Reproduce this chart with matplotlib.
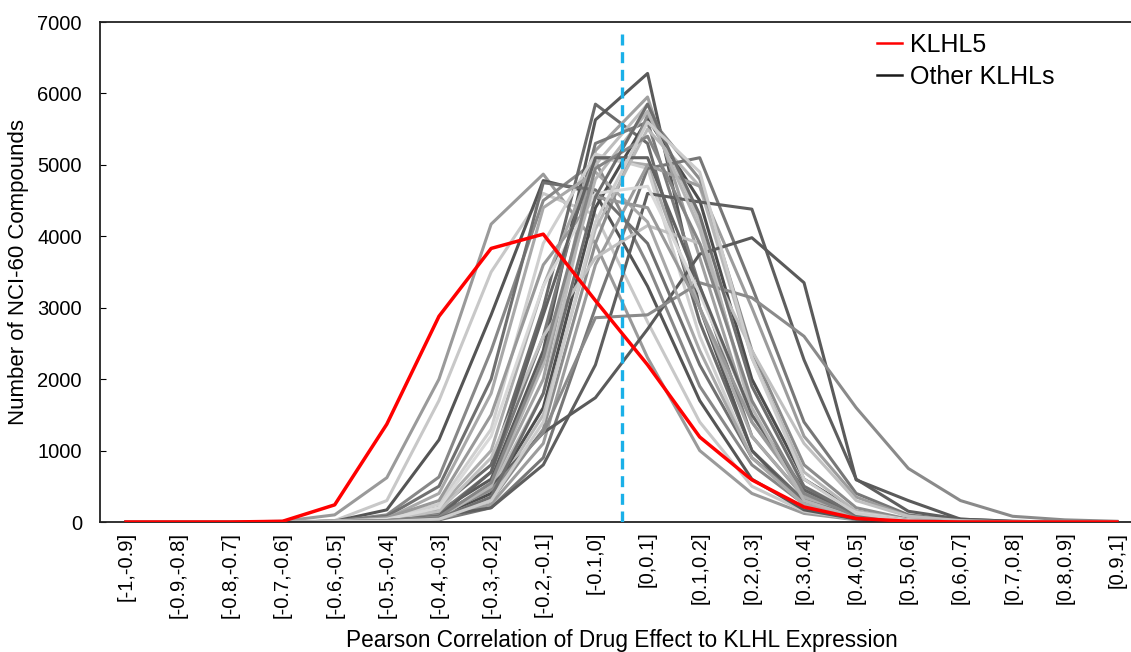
import numpy as np
import matplotlib
matplotlib.use("Agg")
import matplotlib.pyplot as plt
from matplotlib.lines import Line2D

plt.rcParams["font.family"] = ["Liberation Sans", "DejaVu Sans"]

# correlation bins (category axis)
bins = ["[-1,-0.9]", "[-0.9,-0.8]", "[-0.8,-0.7]", "[-0.7,-0.6]", "[-0.6,-0.5]",
        "[-0.5,-0.4]", "[-0.4,-0.3]", "[-0.3,-0.2]", "[-0.2,-0.1]", "[-0.1,0]",
        "[0,0.1]", "[0.1,0.2]", "[0.2,0.3]", "[0.3,0.4]", "[0.4,0.5]",
        "[0.5,0.6]", "[0.6,0.7]", "[0.7,0.8]", "[0.8,0.9]", "[0.9,1]"]

klhl5 = [0, 0, 0, 10, 240, 1370, 2880, 3830, 4030, 3100,
         2200, 1190, 590, 210, 50, 10, 0, 0, 0, 0]

# other KLHL family members (approximate)
other_klhls = [
    [0, 0, 0, 10, 100, 620, 2000, 4170, 4870, 3900, 2300, 1000, 400, 120, 30, 0, 0, 0, 0, 0],
    [0, 0, 0, 0, 20, 300, 1700, 3500, 4600, 4300, 2800, 1400, 500, 150, 40, 10, 0, 0, 0, 0],
    [0, 0, 0, 0, 10, 170, 1150, 2900, 4780, 4600, 3300, 1700, 600, 170, 40, 10, 0, 0, 0, 0],
    [0, 0, 0, 0, 10, 100, 630, 2400, 4500, 5050, 3600, 1900, 800, 250, 60, 20, 0, 0, 0, 0],
    [0, 0, 0, 0, 10, 40, 200, 800, 3000, 5850, 5300, 2800, 1000, 300, 80, 20, 0, 0, 0, 0],
    [0, 0, 0, 0, 5, 30, 150, 600, 2400, 5630, 6280, 3000, 1000, 250, 60, 20, 0, 0, 0, 0],
    [0, 0, 0, 0, 5, 20, 100, 500, 2000, 5200, 5950, 3700, 1400, 400, 100, 30, 0, 0, 0, 0],
    [0, 0, 0, 0, 5, 20, 80, 450, 1800, 5000, 5850, 4200, 1500, 400, 100, 20, 0, 0, 0, 0],
    [0, 0, 0, 0, 5, 30, 120, 700, 2600, 5300, 5600, 3300, 1200, 350, 80, 20, 0, 0, 0, 0],
    [0, 0, 0, 0, 10, 40, 200, 1000, 3300, 5100, 5000, 3000, 1200, 350, 80, 20, 0, 0, 0, 0],
    [0, 0, 0, 0, 10, 50, 250, 1300, 3900, 5150, 4950, 2600, 900, 250, 60, 10, 0, 0, 0, 0],
    [0, 0, 0, 0, 5, 20, 60, 400, 1600, 4400, 5650, 4500, 2000, 600, 150, 30, 0, 0, 0, 0],
    [0, 0, 0, 0, 5, 10, 40, 300, 1300, 3900, 5700, 4800, 2400, 800, 200, 40, 10, 0, 0, 0],
    [0, 0, 0, 0, 5, 10, 50, 350, 1500, 4100, 5500, 4700, 2300, 700, 150, 30, 0, 0, 0, 0],
    [0, 0, 0, 0, 0, 10, 30, 200, 900, 3000, 4950, 5100, 3300, 1400, 400, 100, 20, 0, 0, 0],
    [0, 0, 0, 0, 0, 10, 40, 250, 1100, 3600, 5000, 4700, 3000, 1200, 350, 80, 20, 0, 0, 0],
    [0, 0, 0, 0, 5, 20, 80, 200, 800, 2200, 4600, 4480, 4380, 2270, 600, 150, 40, 10, 0, 0],
    [0, 0, 0, 0, 5, 30, 100, 500, 1250, 1740, 2700, 3750, 3980, 3350, 590, 300, 40, 10, 0, 0],
    [0, 0, 0, 0, 5, 20, 100, 450, 1250, 2860, 2900, 3350, 3140, 2600, 1600, 750, 300, 80, 30, 10],
    [0, 0, 0, 0, 10, 40, 150, 900, 2600, 3700, 4150, 3900, 2400, 1100, 300, 80, 20, 0, 0, 0],
    [0, 0, 0, 0, 10, 80, 500, 2000, 4750, 4650, 3900, 2200, 900, 300, 80, 20, 0, 0, 0, 0],
    [0, 0, 0, 0, 10, 50, 400, 1800, 4400, 4900, 4200, 2400, 900, 250, 60, 10, 0, 0, 0, 0],
    [0, 0, 0, 0, 10, 60, 300, 1500, 3600, 4550, 4400, 3000, 1400, 450, 120, 30, 0, 0, 0, 0],
    [0, 0, 0, 0, 10, 40, 200, 1200, 3300, 4600, 4700, 3200, 1500, 500, 130, 30, 0, 0, 0, 0],
    [0, 0, 0, 0, 5, 20, 80, 700, 2900, 5100, 5100, 3300, 1500, 450, 100, 20, 0, 0, 0, 0],
    [0, 0, 0, 0, 5, 20, 60, 500, 2200, 4800, 5750, 4100, 1600, 300, 60, 10, 0, 0, 0, 0],
    [0, 0, 0, 0, 5, 20, 70, 550, 2300, 4950, 5400, 3900, 1700, 400, 80, 10, 0, 0, 0, 0],
    [0, 0, 0, 0, 5, 10, 50, 350, 1800, 4550, 5850, 4300, 1900, 500, 100, 20, 0, 0, 0, 0],
    [0, 0, 0, 0, 5, 10, 40, 300, 1400, 4200, 5600, 4900, 2300, 600, 120, 20, 0, 0, 0, 0],
]

gray_shades = ["#9a9a9a", "#c8c8c8", "#555555", "#888888", "#6a6a6a", "#595959",
               "#a0a0a0", "#bdbdbd", "#7a7a7a", "#ababab", "#cfcfcf", "#4d4d4d",
               "#8c8c8c", "#b8b8b8", "#777777", "#9c9c9c", "#5e5e5e", "#5a5a5a",
               "#8a8a8a", "#c0c0c0", "#707070", "#a8a8a8", "#999999", "#d9d9d9",
               "#626262", "#b5b5b5", "#858585", "#6e6e6e", "#cccccc"]

fig = plt.figure(figsize=(11.31, 6.52), dpi=100)
ax = fig.add_axes([100 / 1131, 130 / 652, 1043 / 1131, 500 / 652])

x = np.arange(len(bins))
for vals, c in zip(other_klhls, gray_shades):
    ax.plot(x, vals, color=c, lw=2.2, solid_joinstyle="round", zorder=2)

ax.vlines(9.5, 0, 6850, colors="#1ab0e8", linestyles=(0, (3.3, 2.0)), lw=2.4, zorder=3)
ax.plot(x, klhl5, color="#ff0000", lw=2.5, solid_joinstyle="round", zorder=4)

ax.set_xlim(-0.5, len(bins) - 0.5)
ax.set_ylim(0, 7000)
ax.set_yticks(np.arange(0, 7001, 1000))
ax.set_xticks(x)
ax.set_xticklabels(bins, rotation=90, fontsize=14.5)
ax.tick_params(axis="x", length=0, pad=7)
ax.tick_params(axis="y", direction="in", length=4, labelsize=14.5, pad=13)
for s in ["top", "left", "bottom"]:
    ax.spines[s].set_linewidth(1.3)
    ax.spines[s].set_color("#222222")
ax.spines["right"].set_visible(False)

ax.set_xlabel("Pearson Correlation of Drug Effect to KLHL Expression", fontsize=16.3, labelpad=8)
ax.set_ylabel("Number of NCI-60 Compounds", fontsize=16, labelpad=6)

handles = [Line2D([], [], color="#ff0000", lw=1.8), Line2D([], [], color="#1a1a1a", lw=1.8)]
fig.legend(handles, ["KLHL5", "Other KLHLs"], loc="upper left",
           bbox_to_anchor=(877 / 1131, 1 - 33 / 652), frameon=False, fontsize=18,
           handlelength=1.0, handletextpad=0.3, labelspacing=0.3, borderpad=0, borderaxespad=0)

fig.savefig("out.png", dpi=100)
